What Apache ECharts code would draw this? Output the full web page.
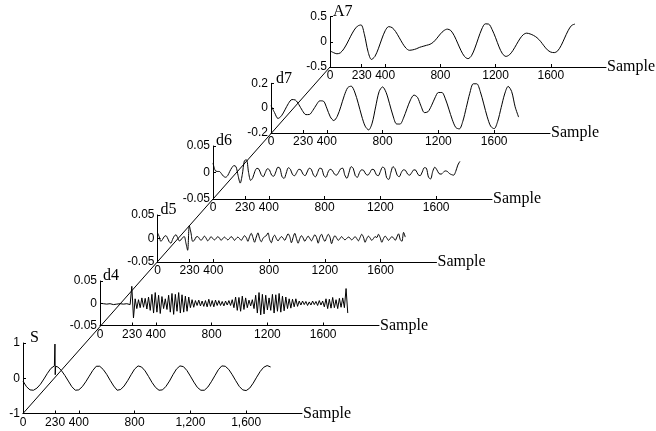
<!DOCTYPE html>
<html>
<head>
<meta charset="utf-8">
<script src="https://cdn.jsdelivr.net/npm/echarts@6/dist/echarts.min.js"></script>
<style>
html, body { margin: 0; padding: 0; background: #fff; }
#chart { width: 656px; height: 431px; }
</style>
</head>
<body>
<div id="chart"></div>
<script>
// ---- data ----
const sampleMax = 2000;
const sampleTicks = [0, 230, 400, 800, 1200, 1600];
const panelNames = ['S', 'd4', 'd5', 'd6', 'd7', 'A7'];
const yRange = [1, 0.05, 0.05, 0.05, 0.2, 0.5];

// S: the raw signal, one value every 25 samples, plus the spike near 230
const sStep = 25;
const sValues = [-0.08, -0.24, -0.33, -0.34, -0.28, -0.17, -0.02, 0.14, 0.28, 0.35,
  0.32, 0.22, 0.08, -0.08, -0.24, -0.34, -0.33, -0.24, -0.10, 0.06,
  0.22, 0.34, 0.34, 0.25, 0.11, -0.06, -0.22, -0.34, -0.32, -0.22,
  -0.07, 0.10, 0.26, 0.35, 0.32, 0.21, 0.05, -0.12, -0.26, -0.34,
  -0.33, -0.23, -0.08, 0.10, 0.26, 0.35, 0.33, 0.22, 0.06, -0.11,
  -0.26, -0.34, -0.34, -0.25, -0.10, 0.07, 0.24, 0.35, 0.34, 0.25,
  0.10, -0.07, -0.23, -0.33, -0.35, -0.28, -0.14, 0.03, 0.19, 0.31,
  0.36, 0.32];
const sSpikeX = [226, 229, 231, 234];
const sSpikeY = [0.35, 0.97, 0.10, 0.34];

// d4: every 12 samples
const d4Step = 12;
const d4Values = [0, 0.002, -0.001, 0.002, -0.002, 0.001, -0.001, 0.002, -0.003, 0.001,
  -0.002, 0.002, -0.001, 0.001, -0.002, 0.002, -0.001,
  0.001, -0.003, 0.038, -0.033,
  0.010, -0.012, 0.008, -0.010, 0.012, -0.009, 0.011, -0.013, 0.014, -0.016,
  0.020, -0.022, 0.024, -0.020, 0.018, -0.023, 0.015, -0.012, 0.010, -0.014,
  0.018, -0.020, 0.022, -0.025, 0.020, -0.018, 0.024, -0.022, 0.019, -0.020,
  0.016, -0.018, 0.014, -0.010, 0.008, -0.009, 0.006, -0.005, 0.007, -0.006,
  0.005, -0.007, 0.006, -0.008, 0.009, -0.007, 0.006, -0.008, 0.007, -0.005,
  0.006, -0.005, 0.004, -0.006, 0.005, -0.004, 0.006, -0.005, 0.008, -0.010,
  0.014, -0.016, 0.013, -0.018, 0.016, -0.014, 0.012, -0.010, 0.007, -0.006,
  0.008, -0.012, 0.018, -0.022, 0.024, -0.026, 0.020, -0.024, 0.018, -0.015,
  0.012, -0.016, 0.020, -0.022, 0.019, -0.018, 0.022, -0.020, 0.016, -0.017,
  0.014, -0.012, 0.010, -0.011, 0.009, -0.008, 0.010, -0.007, 0.005, -0.004,
  0.005, -0.003, 0.004, -0.005, 0.003, -0.004, 0.005, -0.003, 0.004, -0.005,
  0.006, -0.004, 0.005, -0.008, 0.010, -0.012, 0.009, -0.011, 0.013, -0.010,
  0.008, -0.012, 0.011, -0.009, 0.012, -0.010, 0.033, -0.022];

// d5: every 12 samples
const d5Step = 12;
const d5Values = [0.012, 0.004, -0.006, -0.002, 0.004, 0.006, 0.001, -0.007, -0.010, -0.002,
  0.005, 0.008, 0.002, -0.005, -0.003, 0.002, 0.004, -0.010, -0.025, 0.027,
  0.012, -0.006, -0.004, 0.003, 0.004, 0.0, -0.004, 0.0, 0.005, 0.001,
  -0.005, -0.001, 0.004, 0.0, -0.003, 0.0, 0.004, 0.001, -0.004, 0.0,
  0.003, 0.0, -0.003, 0.0, 0.004, 0.001, -0.004, 0.0, 0.003, 0.0,
  -0.004, 0.001, 0.006, 0.002, -0.006, 0.004, 0.011, 0.002, -0.008, 0.003,
  0.012, 0.0, -0.007, 0.0, 0.004, 0.006, 0.012, -0.002, -0.009, 0.002,
  0.007, 0.0, -0.005, 0.0, 0.004, 0.001, -0.004, 0.003, 0.010, 0.004,
  -0.009, 0.002, 0.011, 0.0, -0.010, 0.0, 0.006, 0.001, -0.006, 0.0,
  0.005, 0.0, -0.005, 0.002, 0.008, 0.002, -0.010, 0.003, 0.009, 0.0,
  -0.006, 0.002, 0.009, 0.003, -0.011, 0.0, 0.006, 0.001, -0.004, 0.0,
  0.004, 0.0, -0.003, 0.0, 0.003, 0.001, -0.003, 0.0, 0.004, 0.0,
  -0.005, 0.002, 0.009, 0.003, -0.008, 0.0, 0.005, 0.001, -0.004, 0.0,
  0.004, 0.002, 0.009, 0.002, -0.008, 0.0, 0.005, 0.001, -0.004, 0.0,
  0.004, 0.001, -0.004, 0.003, 0.010, -0.002, -0.006, 0.013, 0.003];

// d6: every 15 samples
const d6Step = 15;
const d6Values = [0.018, 0.004, 0.002, 0.002, -0.002, -0.007, -0.009, -0.006, 0.002, 0.009,
  0.013, 0.011, -0.006, -0.020, -0.004, 0.022, 0.024, 0.0, -0.015, -0.010,
  0.002, 0.008, 0.006, -0.004, -0.008, 0.0, 0.007, 0.005, -0.005, -0.007,
  0.001, 0.010, 0.008, -0.008, -0.011, -0.001, 0.009, 0.006, -0.004, -0.006,
  0.0, 0.006, 0.005, -0.003, -0.006, 0.001, 0.008, 0.006, -0.005, -0.008,
  0.0, 0.008, 0.007, -0.006, -0.009, 0.001, 0.006, 0.004, -0.003, -0.005,
  0.0, 0.007, 0.008, -0.005, -0.011, 0.0, 0.011, 0.008, -0.006, -0.009,
  0.0, 0.005, 0.004, -0.003, -0.005, 0.0, 0.006, 0.005, -0.004, -0.006,
  0.002, 0.010, 0.008, -0.010, -0.013, 0.0, 0.011, 0.007, -0.005, -0.008,
  0.0, 0.005, 0.004, -0.003, -0.005, 0.0, 0.005, 0.004, -0.004, -0.006,
  0.001, 0.009, 0.008, -0.009, -0.012, 0.002, 0.010, 0.005, -0.002, -0.003,
  0.0, 0.003, 0.002, -0.002, -0.004, -0.005, 0.002, 0.014, 0.021];

// d7: every 25 samples
const d7Step = 25;
const d7Values = [0.02, -0.035, -0.083, -0.062, -0.014, 0.038, 0.069, 0.065, 0.028, -0.020,
  -0.052, -0.051, -0.018, 0.026, 0.059, 0.057, 0.0, -0.070, -0.10, -0.066,
  0.011, 0.10, 0.165, 0.177, 0.13, 0.04, -0.063, -0.145, -0.175, -0.121,
  0.01, 0.133, 0.171, 0.127, 0.035, -0.063, -0.127, -0.128, -0.079, -0.004,
  0.067, 0.105, 0.087, 0.018, -0.036, -0.029, 0.019, 0.082, 0.126, 0.126,
  0.075, -0.008, -0.094, -0.156, -0.167, -0.106, 0.005, 0.12, 0.196, 0.196,
  0.134, 0.034, -0.07, -0.146, -0.165, -0.106, 0.005, 0.114, 0.175, 0.134,
  0.011, -0.072];

// A7: every 25 samples
const a7Step = 25;
const a7Values = [-0.18, -0.215, -0.238, -0.22, -0.142, -0.025, 0.11, 0.231, 0.311, 0.333,
  0.136, -0.188, -0.35, -0.293, -0.14, 0.053, 0.219, 0.299, 0.28, 0.203,
  0.09, -0.029, -0.125, -0.169, -0.16, -0.14, -0.11, -0.09, -0.07, -0.05,
  -0.005, 0.07, 0.155, 0.22, 0.25, 0.223, 0.121, -0.027, -0.179, -0.293,
  -0.335, -0.278, -0.125, 0.071, 0.253, 0.354, 0.349, 0.24, 0.079, -0.102,
  -0.239, -0.29, -0.259, -0.175, -0.06, 0.055, 0.139, 0.17, 0.155, 0.125,
  0.08, 0.01, -0.08, -0.16, -0.205, -0.215, -0.18, -0.074, 0.073, 0.218,
  0.321, 0.35];

// ---- layout ----
const plotWidth = 279;
const layout = [
  {left: 23, top: 343, height: 70.5, nameLeft: 7},
  {left: 100, top: 281, height: 44.5, nameLeft: 3},
  {left: 157.5, top: 215, height: 47, nameLeft: 3},
  {left: 213, top: 146, height: 53, nameLeft: 3},
  {left: 271, top: 83.3, height: 49.7, nameLeft: 5},
  {left: 330, top: 16.5, height: 50.5, nameLeft: 3}
];
const sans = 'Liberation Sans';
const serif = 'Liberation Serif';

const toPairs = (step, values) => values.map((v, i) => [i * step, v]);
const withComma = v => String(v).replace(/\B(?=(\d{3})+(?!\d))/g, ',');

const sData = toPairs(sStep, sValues)
  .concat(sSpikeX.map((x, i) => [x, sSpikeY[i]]))
  .sort((a, b) => a[0] - b[0]);
const seriesData = [
  sData,
  toPairs(d4Step, d4Values),
  toPairs(d5Step, d5Values),
  toPairs(d6Step, d6Values),
  toPairs(d7Step, d7Values),
  toPairs(a7Step, a7Values)
];
const smoothing = [false, false, 0.3, 0.3, 0.3, 0.3];

let grids = [], xAxes = [], yAxes = [], series = [];
layout.forEach((p, i) => {
  grids.push({left: p.left, top: p.top, width: plotWidth, height: p.height});
  xAxes.push({
    type: 'value', gridIndex: i, min: 0, max: sampleMax,
    name: 'Sample', nameLocation: 'end', nameGap: 1,
    nameTextStyle: {fontFamily: serif, fontSize: 16, color: '#000', align: 'left',
      verticalAlign: 'middle', padding: [0, 0, 9, 0]},
    axisLine: {show: true, onZero: false, lineStyle: {color: '#000', width: 1}},
    axisTick: {show: true, inside: true, length: 3, customValues: sampleTicks.slice(1),
      lineStyle: {color: '#000'}},
    axisLabel: {customValues: sampleTicks, margin: 3, color: '#000', fontFamily: sans, fontSize: 12,
      formatter: v => i === 0 ? withComma(v) : String(v)},
    splitLine: {show: false}
  });
  yAxes.push({
    type: 'value', gridIndex: i, min: -yRange[i], max: yRange[i], interval: yRange[i],
    name: panelNames[i], nameLocation: 'end', nameGap: 5,
    nameTextStyle: {fontFamily: serif, fontSize: 16, color: '#000', align: 'left',
      verticalAlign: 'middle', padding: [0, 0, 0, p.nameLeft]},
    axisLine: {show: true, onZero: false, lineStyle: {color: '#000', width: 1}},
    axisTick: {show: true, inside: true, length: 3, lineStyle: {color: '#000'}},
    axisLabel: {margin: 3, color: '#000', fontFamily: sans, fontSize: 12},
    splitLine: {show: false}
  });
  series.push({
    type: 'line', xAxisIndex: i, yAxisIndex: i, data: seriesData[i],
    showSymbol: false, symbol: 'none', smooth: smoothing[i], silent: true,
    lineStyle: {color: '#000', width: 1}
  });
});

const myChart = echarts.init(document.getElementById('chart'));
myChart.setOption({
  animation: false,
  backgroundColor: '#fff',
  grid: grids,
  xAxis: xAxes,
  yAxis: yAxes,
  series: series
});

// diagonal through the panel origins, from S up to A7
const last = layout.length - 1;
const p0 = myChart.convertToPixel({gridIndex: 0}, [0, -yRange[0]]);
const p1 = myChart.convertToPixel({gridIndex: last}, [0, -yRange[last]]);
myChart.setOption({
  graphic: [{
    type: 'line', silent: true,
    shape: {x1: p0[0], y1: p0[1], x2: p1[0], y2: p1[1]},
    style: {stroke: '#000', lineWidth: 1}
  }]
});
</script>
</body>
</html>
